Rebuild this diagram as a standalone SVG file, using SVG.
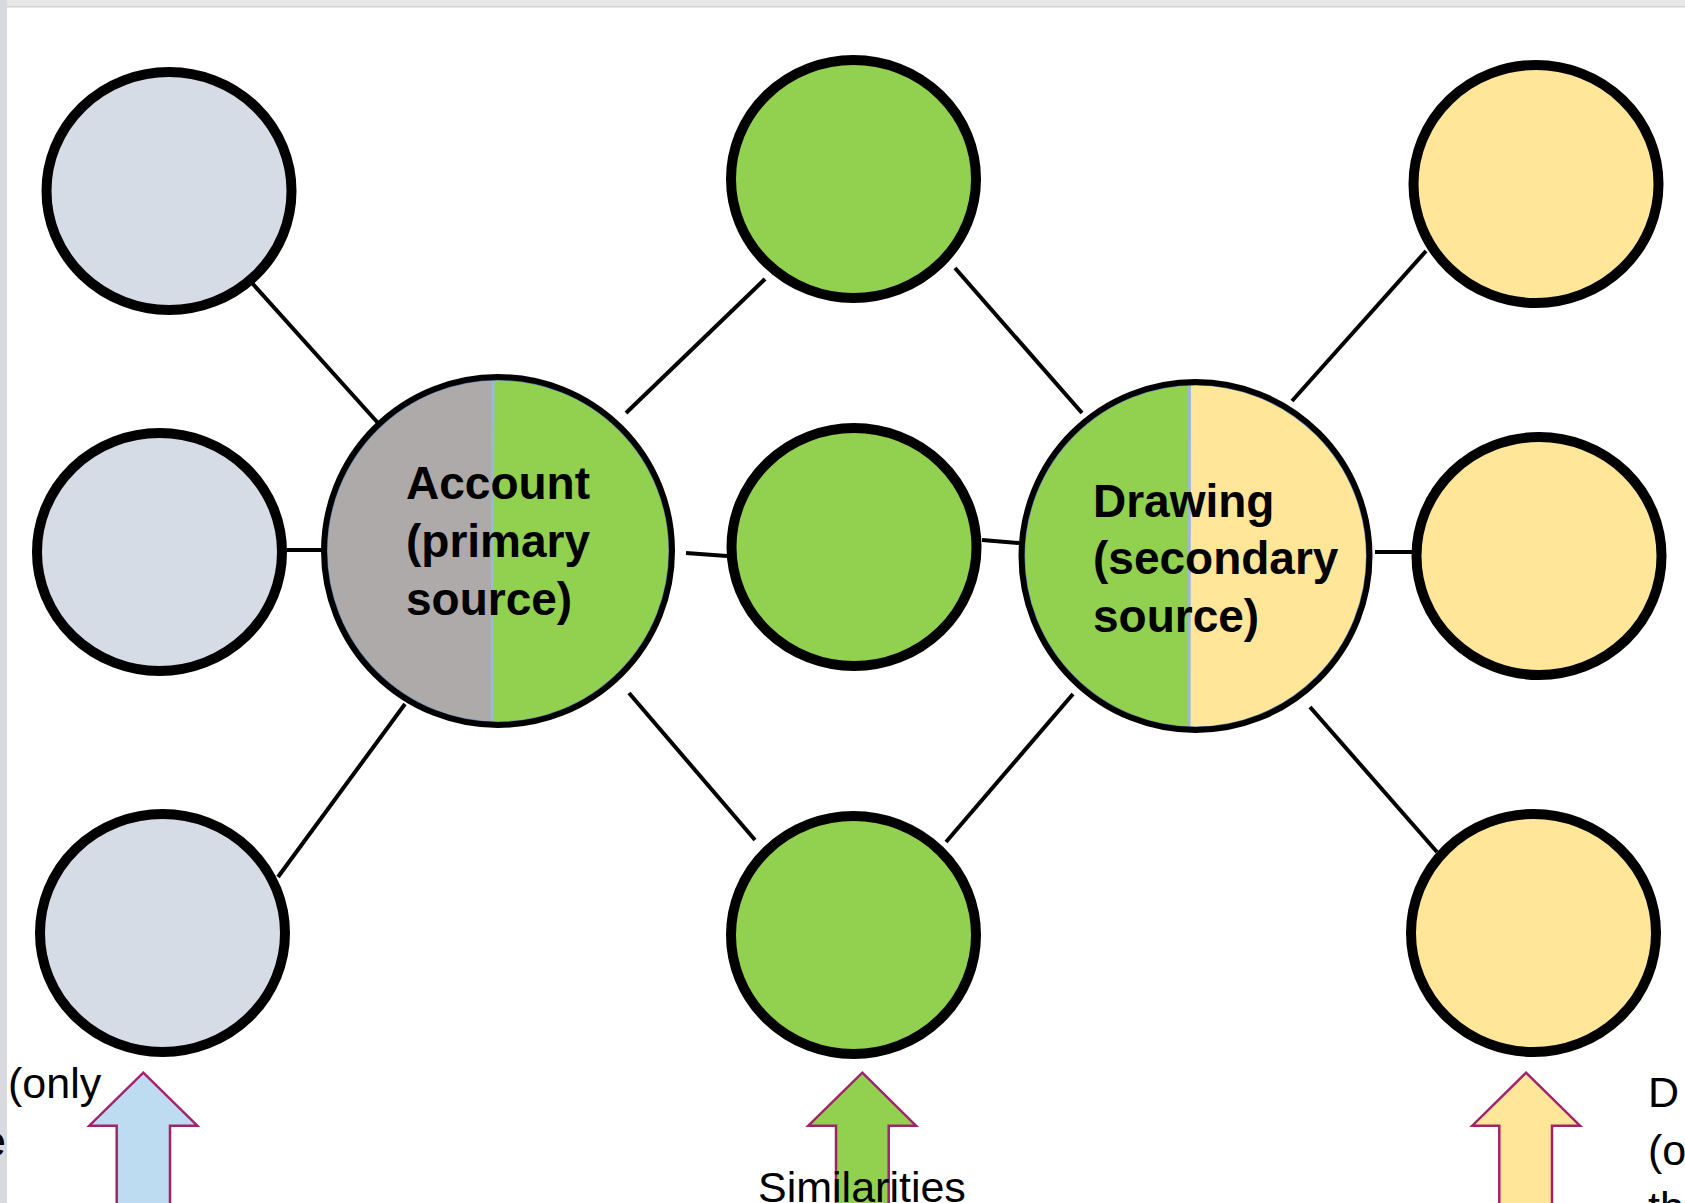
<svg xmlns="http://www.w3.org/2000/svg" width="1685" height="1203" viewBox="0 0 1685 1203">
<style>
.small{stroke:#000;stroke-width:10}
.blue{fill:#d6dce5}
.green{fill:#92d050}
.yellow{fill:#ffe699}
.gray{fill:#aeaaaa}
.conn line{stroke:#000;stroke-width:4;stroke-linecap:butt}
.big{fill:none;stroke:#000;stroke-width:6}
.bigin{fill:none;stroke:#5b86b8;stroke-width:1.2}
.div{stroke:#9ab8d8;stroke-width:3}
.lbl{font-family:"Liberation Sans",Arial,sans-serif;font-weight:bold;font-size:46px;fill:#000}
.txt{font-family:"Liberation Sans",Arial,sans-serif;font-size:43px;fill:#000}
.arrow{stroke:#a3236b;stroke-width:2.5;stroke-linejoin:miter}
</style>
<defs>
<clipPath id="cA"><circle cx="498" cy="551" r="172"/></clipPath>
<clipPath id="cD"><circle cx="1195.5" cy="556" r="172"/></clipPath>
</defs>
<rect x="0" y="0" width="1685" height="1203" fill="#ffffff"/>
<rect x="0" y="0" width="1685" height="6.5" fill="#e8e8e8"/>
<rect x="0" y="6" width="1685" height="1.5" fill="#d2d2d2"/>
<rect x="0" y="0" width="7" height="1203" fill="#d9dadf"/>

<g id="connectors" class="conn">
<line x1="252" y1="283" x2="378" y2="423"/>
<line x1="287" y1="550" x2="322" y2="550"/>
<line x1="278" y1="877" x2="405" y2="704"/>
<line x1="626" y1="413" x2="765" y2="279"/>
<line x1="686" y1="553" x2="727" y2="556"/>
<line x1="629" y1="693" x2="755" y2="840"/>
<line x1="955" y1="268" x2="1082" y2="413"/>
<line x1="982" y1="540" x2="1019" y2="543"/>
<line x1="946" y1="842" x2="1073" y2="694"/>
<line x1="1292" y1="401" x2="1426" y2="251"/>
<line x1="1375" y1="552" x2="1412" y2="552"/>
<line x1="1310" y1="707" x2="1437" y2="852"/>
</g>

<g id="node-tl"><ellipse class="small blue" cx="169" cy="191" rx="122.5" ry="119"/></g>
<g id="node-ml"><ellipse class="small blue" cx="159.5" cy="552" rx="122.5" ry="119"/></g>
<g id="node-bl"><ellipse class="small blue" cx="162.5" cy="933" rx="122.5" ry="119"/></g>
<g id="node-mt"><ellipse class="small green" cx="853.5" cy="179" rx="122.5" ry="119"/></g>
<g id="node-mm"><ellipse class="small green" cx="854" cy="547" rx="122.5" ry="119"/></g>
<g id="node-mb"><ellipse class="small green" cx="853.5" cy="935" rx="122.5" ry="119"/></g>
<g id="node-rt"><ellipse class="small yellow" cx="1536" cy="184" rx="122.5" ry="119"/></g>
<g id="node-rm"><ellipse class="small yellow" cx="1539" cy="556" rx="122.5" ry="119"/></g>
<g id="node-rb"><ellipse class="small yellow" cx="1533.5" cy="933" rx="122.5" ry="119"/></g>

<g id="node-account">
<g clip-path="url(#cA)">
<rect class="gray" x="320" y="370" width="173" height="370"/>
<rect class="green" x="493" y="370" width="190" height="370"/>
<line class="div" x1="493" y1="370" x2="492" y2="740"/>
</g>
<circle class="bigin" cx="498" cy="551" r="171"/>
<circle class="big" cx="498" cy="551" r="174"/>
<text class="lbl" x="406" y="499">Account</text>
<text class="lbl" x="406" y="557">(primary</text>
<text class="lbl" x="406" y="615">source)</text>
</g>

<g id="node-drawing">
<g clip-path="url(#cD)">
<rect class="green" x="1018" y="375" width="172" height="370"/>
<rect class="yellow" x="1189.5" y="375" width="190" height="370"/>
<line class="div" x1="1189.5" y1="375" x2="1189" y2="745"/>
</g>
<circle class="bigin" cx="1195.5" cy="556" r="171"/>
<circle class="big" cx="1195.5" cy="556" r="174"/>
<text class="lbl" x="1093" y="517">Drawing</text>
<text class="lbl" x="1093" y="574">(secondary</text>
<text class="lbl" x="1093" y="632">source)</text>
</g>

<g id="arrow-left"><path class="arrow" fill="#bddcf1" d="M143.3,1072.7 L197.3,1125.7 L170,1125.7 L170,1215 L116.7,1215 L116.7,1125.7 L89.3,1125.7 Z"/></g>
<g id="arrow-mid"><path class="arrow" fill="#92d050" d="M862.3,1072.7 L916,1125.7 L888.7,1125.7 L888.7,1215 L836,1215 L836,1125.7 L808.3,1125.7 Z"/></g>
<g id="arrow-right"><path class="arrow" fill="#ffe699" d="M1526,1072.7 L1580,1125.7 L1552,1125.7 L1552,1215 L1499.3,1215 L1499.3,1125.7 L1472.3,1125.7 Z"/></g>

<g id="labels">
<text class="txt" x="8" y="1098">(only</text>
<text class="txt" x="-18" y="1156">e</text>
<text class="txt" x="758" y="1202">Similarities</text>
<text class="txt" x="1648" y="1107">D</text>
<text class="txt" x="1648" y="1165">(o</text>
<text class="txt" x="1648" y="1222">th</text>
</g>
</svg>
